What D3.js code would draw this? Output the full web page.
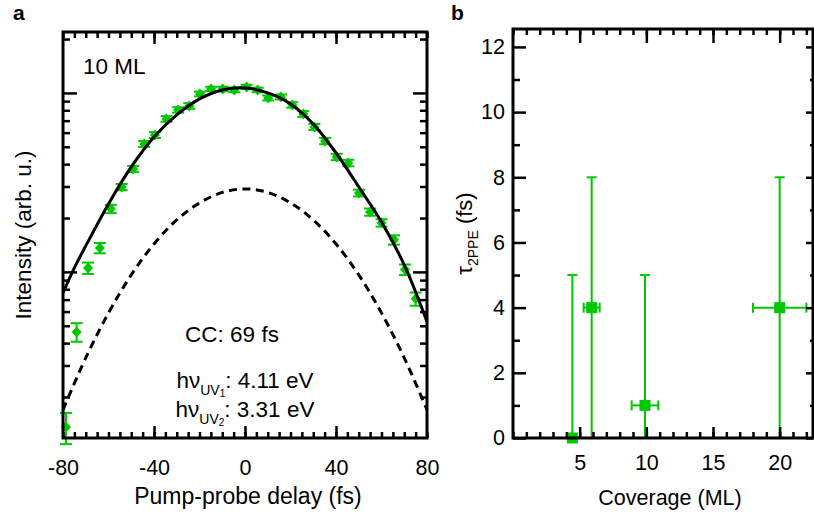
<!DOCTYPE html>
<html>
<head>
<meta charset="utf-8">
<script src="https://cdn.jsdelivr.net/npm/d3@7"></script>
<style>
  body { margin: 0; background: #fff; }
  text { font-family: "Liberation Sans", Arial, sans-serif; fill: #000; }
</style>
</head>
<body>
<div id="chart"></div>
<script>
// ---- panel a: cross correlation, 10 ML ----
var delay = [-78.7, -74, -69, -63.8, -59, -54.2, -49.2, -44.3, -39.6, -34.5, -29.4, -24.5,
  -19.8, -14.9, -9.8, -4.7, 0.7, 5.6, 10.2, 15.8, 20.8, 25.6, 30.5, 35.2, 40.3, 45.4,
  50.1, 55, 60, 65.5, 70.3, 75];
var intensity = [0.0136, 0.0462, 0.105, 0.136, 0.225, 0.298, 0.376, 0.519, 0.582, 0.716, 0.804, 0.846,
  0.987, 1.053, 1.053, 1.039, 1.080, 1.039, 0.938, 0.950, 0.857, 0.763, 0.646, 0.539, 0.439, 0.406,
  0.276, 0.216, 0.188, 0.151, 0.103, 0.0707];
var intensityErr = [0.0027, 0.0055, 0.0077, 0.009, 0.012, 0.012, 0.015, 0.02, 0.022, 0.026, 0.028, 0.03,
  0.03, 0.03, 0.03, 0.03, 0.03, 0.03, 0.03, 0.03, 0.03, 0.028, 0.025, 0.022, 0.018, 0.017,
  0.012, 0.01, 0.009, 0.009, 0.007, 0.006];

var fitDelay = [-80, -75, -70, -60, -50, -40, -30, -20, -10, 0, 10, 20, 30, 40, 50, 60, 70, 80];
var fitTotal = [0.0763, 0.1053, 0.1397, 0.2398, 0.3861, 0.5677, 0.7535, 0.9257, 1.039, 1.066,
  1.000, 0.868, 0.671, 0.462, 0.2985, 0.190, 0.1094, 0.0526];

var ccDelay = [-80, -70, -60, -50, -40, -30, -20, -10, 0, 10, 20, 30, 40, 50, 60, 70, 80];
var ccCurve = [0.01695, 0.0331, 0.0590, 0.0962, 0.1433, 0.1952, 0.2429, 0.2780, 0.2909, 0.2780,
  0.2429, 0.1952, 0.1433, 0.0962, 0.0590, 0.0331, 0.01695];

var delayTicks = [-80, -40, 0, 40, 80];
var delayLimits = [-80, 80];
var intensityLimits = [0.0118, 2.19];

// ---- panel b: tau_2PPE vs coverage ----
var coverage = [4.45, 5.9, 9.9, 20];
var coverageErr = [0, 0.6, 1, 2];
var tau = [0, 4, 1, 4];
var tauLow = [0, 0, 0, 0];
var tauHigh = [5, 8, 5, 8];
var coverageTicks = [5, 10, 15, 20];
var tauTicks = [0, 2, 4, 6, 8, 10, 12];
var coverageLimits = [0, 22.5];
var tauLimits = [0, 12.55];

var green = "#00c800";
var width = 814, height = 519;

var svg = d3.select("#chart").append("svg")
  .attr("width", width)
  .attr("height", height);

// draws inward ticks without labels
function inTicks(g, axis, values, len) {
  g.call(axis.tickValues(values).tickSize(-len).tickFormat(""));
  g.select(".domain").remove();
  g.selectAll("line").attr("stroke", "#000").attr("stroke-width", 2.5);
}

function labels(g, axis, values, pad, size) {
  g.call(axis.tickValues(values).tickSize(0).tickPadding(pad));
  g.select(".domain").remove();
  g.selectAll("text").attr("font-size", size).attr("font-family", "Liberation Sans, Arial, sans-serif");
}

// ================= panel a =================
var ax = {left: 63, right: 427, top: 32, bottom: 438};
var xA = d3.scaleLinear().domain(delayLimits).range([ax.left, ax.right]);
var yA = d3.scaleLog().domain(intensityLimits).range([ax.bottom, ax.top]);

var gA = svg.append("g");

gA.append("clipPath").attr("id", "clipA").append("rect")
  .attr("x", ax.left).attr("y", ax.top)
  .attr("width", ax.right - ax.left).attr("height", ax.bottom - ax.top);

// data points with error bars
var ptsA = delay.map(function(d, i) { return {t: d, v: intensity[i], e: intensityErr[i]}; });

var diamond = {
  draw: function(ctx, size) {
    var w = 5, h = 5.5;
    ctx.moveTo(0, -h); ctx.lineTo(w, 0); ctx.lineTo(0, h); ctx.lineTo(-w, 0); ctx.closePath();
  }
};

var err = gA.append("g").attr("stroke", green).attr("stroke-width", 2);
ptsA.forEach(function(p) {
  var x = xA(p.t), y1 = yA(p.v - p.e), y2 = yA(p.v + p.e);
  err.append("line").attr("x1", x).attr("x2", x).attr("y1", y1).attr("y2", y2);
  err.append("line").attr("x1", x - 6).attr("x2", x + 6).attr("y1", y1).attr("y2", y1);
  err.append("line").attr("x1", x - 6).attr("x2", x + 6).attr("y1", y2).attr("y2", y2);
});

gA.selectAll("path.pt")
  .data(ptsA)
  .enter()
  .append("path")
    .attr("class", "pt")
    .attr("d", d3.symbol().type(diamond))
    .attr("transform", function(d) { return "translate(" + xA(d.t) + "," + yA(d.v) + ")"; })
    .attr("fill", green);

var lineA = d3.line().curve(d3.curveCatmullRom.alpha(0.5));

gA.append("path")
  .attr("clip-path", "url(#clipA)")
  .attr("d", lineA(fitDelay.map(function(t, i) { return [xA(t), yA(fitTotal[i])]; })))
  .attr("fill", "none").attr("stroke", "#000").attr("stroke-width", 3);

gA.append("path")
  .attr("clip-path", "url(#clipA)")
  .attr("d", lineA(ccDelay.map(function(t, i) { return [xA(t), yA(ccCurve[i])]; })))
  .attr("fill", "none").attr("stroke", "#000").attr("stroke-width", 3)
  .attr("stroke-dasharray", "8,5.5");

// ticks
var minorX = d3.range(-80, 81, 5);
var majorX = [-40, 0, 40];
inTicks(gA.append("g").attr("transform", "translate(0," + ax.bottom + ")"), d3.axisBottom(xA), minorX, 6);
inTicks(gA.append("g").attr("transform", "translate(0," + ax.bottom + ")"), d3.axisBottom(xA), majorX, 12);
inTicks(gA.append("g").attr("transform", "translate(0," + ax.top + ")"), d3.axisTop(xA), minorX, 6);
inTicks(gA.append("g").attr("transform", "translate(0," + ax.top + ")"), d3.axisTop(xA), majorX, 12);

var decades = [0.01, 0.1, 1];
var minorY = [];
decades.forEach(function(d) {
  for (var k = 2; k <= 9; k++) {
    var v = d * k;
    if (v > intensityLimits[0] && v < intensityLimits[1]) minorY.push(v);
  }
});
var majorY = [0.1, 1];
inTicks(gA.append("g").attr("transform", "translate(" + ax.left + ",0)"), d3.axisLeft(yA), minorY, 7);
inTicks(gA.append("g").attr("transform", "translate(" + ax.left + ",0)"), d3.axisLeft(yA), majorY, 14);
inTicks(gA.append("g").attr("transform", "translate(" + ax.right + ",0)"), d3.axisRight(yA), minorY, 7);
inTicks(gA.append("g").attr("transform", "translate(" + ax.right + ",0)"), d3.axisRight(yA), majorY, 14);

gA.append("rect")
  .attr("x", ax.left).attr("y", ax.top)
  .attr("width", ax.right - ax.left).attr("height", ax.bottom - ax.top)
  .attr("fill", "none").attr("stroke", "#000").attr("stroke-width", 3);

labels(gA.append("g").attr("transform", "translate(0," + ax.bottom + ")"),
  d3.axisBottom(xA).tickFormat(function(d) { return d < 0 ? "-" + Math.abs(d) : d; }), delayTicks, 22, "21.5px");

gA.append("text")
  .attr("x", 248).attr("y", 504)
  .attr("text-anchor", "middle").attr("font-size", "23px")
  .text("Pump-probe delay (fs)");

gA.append("text")
  .attr("transform", "translate(31," + (ax.top + ax.bottom) / 2 + ") rotate(-90)")
  .attr("text-anchor", "middle").attr("font-size", "22.5px")
  .text("Intensity (arb. u.)");

gA.append("text").attr("x", 83).attr("y", 74).attr("font-size", "22.5px").text("10 ML");
gA.append("text").attr("x", 232).attr("y", 342).attr("text-anchor", "middle")
  .attr("font-size", "22.5px").text("CC: 69 fs");

function photon(y, idx, val) {
  var t = gA.append("text").attr("x", 245).attr("y", y).attr("text-anchor", "middle")
    .attr("font-size", "22.5px");
  t.append("tspan").text("h\u03bd");
  t.append("tspan").attr("font-size", "14px").attr("dy", 7).text("UV");
  t.append("tspan").attr("font-size", "10px").attr("dy", 2).text(idx);
  t.append("tspan").attr("dy", -9).text(": " + val + " eV");
}
photon(388, "1", "4.11");
photon(417, "2", "3.31");

svg.append("text").attr("x", 13).attr("y", 20).attr("font-size", "21px")
  .attr("font-weight", "bold").text("a");

// ================= panel b =================
var bx = {left: 513, right: 813, top: 29, bottom: 438};
var xB = d3.scaleLinear().domain(coverageLimits).range([bx.left, bx.right]);
var yB = d3.scaleLinear().domain(tauLimits).range([bx.bottom, bx.top]);

var gB = svg.append("g");

var ptsB = coverage.map(function(c, i) {
  return {c: c, ce: coverageErr[i], t: tau[i], lo: tauLow[i], hi: tauHigh[i]};
});

var errB = gB.append("g").attr("stroke", green).attr("stroke-width", 2);
ptsB.forEach(function(p) {
  var x = xB(p.c), y = yB(p.t), y1 = yB(p.lo), y2 = yB(p.hi);
  errB.append("line").attr("x1", x).attr("x2", x).attr("y1", y1).attr("y2", y2);
  errB.append("line").attr("x1", x - 5).attr("x2", x + 5).attr("y1", y1).attr("y2", y1);
  errB.append("line").attr("x1", x - 5).attr("x2", x + 5).attr("y1", y2).attr("y2", y2);
  if (p.ce > 0) {
    var xa = xB(p.c - p.ce), xb = xB(p.c + p.ce);
    errB.append("line").attr("x1", xa).attr("x2", xb).attr("y1", y).attr("y2", y);
    errB.append("line").attr("x1", xa).attr("x2", xa).attr("y1", y - 5).attr("y2", y + 5);
    errB.append("line").attr("x1", xb).attr("x2", xb).attr("y1", y - 5).attr("y2", y + 5);
  }
});

gB.selectAll("path.sq")
  .data(ptsB)
  .enter()
  .append("path")
    .attr("class", "sq")
    .attr("d", d3.symbol().type(d3.symbolSquare).size(121))
    .attr("transform", function(d) { return "translate(" + xB(d.c) + "," + yB(d.t) + ")"; })
    .attr("fill", green);

var minorC = d3.range(0, 23, 1);
inTicks(gB.append("g").attr("transform", "translate(0," + bx.bottom + ")"), d3.axisBottom(xB), minorC, 6);
inTicks(gB.append("g").attr("transform", "translate(0," + bx.bottom + ")"), d3.axisBottom(xB), coverageTicks, 11);
inTicks(gB.append("g").attr("transform", "translate(0," + bx.top + ")"), d3.axisTop(xB), minorC, 6);
inTicks(gB.append("g").attr("transform", "translate(0," + bx.top + ")"), d3.axisTop(xB), coverageTicks, 14);

var minorT = [1, 3, 5, 7, 9, 11];
inTicks(gB.append("g").attr("transform", "translate(" + bx.left + ",0)"), d3.axisLeft(yB), minorT, 7);
inTicks(gB.append("g").attr("transform", "translate(" + bx.left + ",0)"), d3.axisLeft(yB), tauTicks, 13);
inTicks(gB.append("g").attr("transform", "translate(" + bx.right + ",0)"), d3.axisRight(yB), minorT, 3);
inTicks(gB.append("g").attr("transform", "translate(" + bx.right + ",0)"), d3.axisRight(yB), tauTicks, 7);

gB.append("rect")
  .attr("x", bx.left).attr("y", bx.top)
  .attr("width", bx.right - bx.left).attr("height", bx.bottom - bx.top)
  .attr("fill", "none").attr("stroke", "#000").attr("stroke-width", 3);

labels(gB.append("g").attr("transform", "translate(0," + bx.bottom + ")"), d3.axisBottom(xB), coverageTicks, 17, "21.5px");
labels(gB.append("g").attr("transform", "translate(" + bx.left + ",0)"), d3.axisLeft(yB), tauTicks, 8, "21.5px");

gB.append("text")
  .attr("x", 670).attr("y", 505)
  .attr("text-anchor", "middle").attr("font-size", "21.5px")
  .text("Coverage (ML)");

var tauLabel = gB.append("text")
  .attr("transform", "translate(472," + (bx.top + bx.bottom) / 2 + ") rotate(-90)")
  .attr("text-anchor", "middle").attr("font-size", "22px");
tauLabel.append("tspan").text("\u03c4");
tauLabel.append("tspan").attr("font-size", "14px").attr("dy", 6).text("2PPE");
tauLabel.append("tspan").attr("dy", -6).text(" (fs)");

svg.append("text").attr("x", 451).attr("y", 20).attr("font-size", "21px")
  .attr("font-weight", "bold").text("b");
</script>
</body>
</html>
